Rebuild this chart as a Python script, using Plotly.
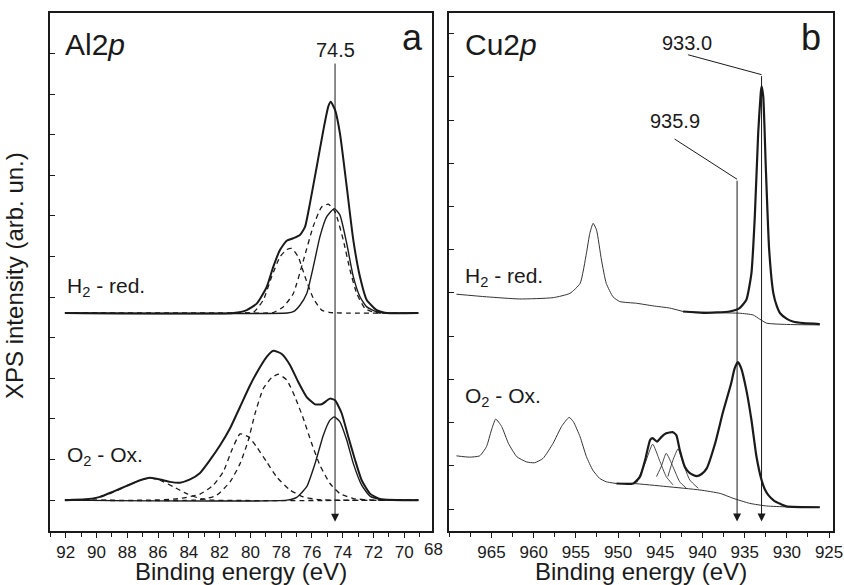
import plotly.graph_objects as go

W, H = 844, 585

# ---- panel a: Al2p (binding energy in eV, intensity in arb. units) ----
al_ticks = [92, 90, 88, 86, 84, 82, 80, 78, 76, 74, 72, 70]

al_red_env_x = [92.05, 81.1, 80.24, 79.59, 78.94, 78.51, 78.08, 77.64, 77.21, 76.78, 76.45,
                76.13, 75.69, 75.26, 74.94, 74.78, 74.5, 74.18, 73.74, 73.31, 72.88, 72.44,
                71.79, 71.14, 69.09]
al_red_env_y = [4.61, 4.61, 4.68, 4.84, 5.25, 5.75, 6.16, 6.39, 6.45, 6.53, 6.73,
                7.31, 8.21, 9.11, 9.69, 9.81, 9.61, 9.03, 7.72, 6.40, 5.50, 4.93,
                4.68, 4.61, 4.61]
al_red_met_x = [92.05, 77.6, 77.21, 76.78, 76.34, 75.91, 75.48, 75.04, 74.55, 74.18, 73.74,
                73.31, 72.88, 72.44, 71.79, 71.14, 69.09]
al_red_met_y = [4.61, 4.61, 4.64, 4.80, 5.09, 5.75, 6.49, 6.98, 7.18, 7.02, 6.32,
                5.50, 5.01, 4.76, 4.64, 4.61, 4.61]
al_red_ox1_x = [92.05, 78.9, 78.51, 77.86, 77.21, 76.56, 75.91, 75.37, 74.94, 74.5, 73.96,
                73.53, 73.09, 72.55, 71.9, 69.09]
al_red_ox1_y = [4.61, 4.61, 4.62, 4.76, 5.09, 5.90, 6.75, 7.22, 7.29, 7.10, 6.40,
                5.67, 5.09, 4.72, 4.62, 4.61]
al_red_ox2_x = [92.05, 80.2, 79.81, 79.16, 78.62, 78.08, 77.64, 77.32, 76.89, 76.45, 75.91,
                75.37, 74.8, 69.09]
al_red_ox2_y = [4.61, 4.61, 4.62, 4.93, 5.50, 5.99, 6.17, 6.20, 5.99, 5.50, 4.97,
                4.68, 4.62, 4.61]

al_ox_env_x = [92.05, 90.64, 89.77, 88.91, 88.04, 87.17, 86.52, 85.87, 85.22, 84.57, 83.92,
               83.27, 82.62, 81.97, 81.32, 80.67, 80.02, 79.37, 78.94, 78.51, 77.96, 77.43,
               76.89, 76.34, 75.80, 75.37, 74.83, 74.5, 74.07, 73.64, 73.20, 72.77, 72.23,
               71.58, 69.09]
al_ox_env_y = [0.0, 0.02, 0.08, 0.21, 0.35, 0.49, 0.55, 0.51, 0.45, 0.43, 0.51,
               0.67, 0.99, 1.35, 1.77, 2.30, 2.83, 3.28, 3.53, 3.68, 3.60, 3.33,
               2.91, 2.54, 2.36, 2.36, 2.50, 2.46, 2.14, 1.56, 0.99, 0.49, 0.16,
               0.03, 0.0]
al_ox_met_x = [92.05, 77.64, 76.99, 76.34, 75.80, 75.26, 74.83, 74.55, 74.18, 73.74, 73.31,
               72.77, 72.23, 71.58, 70.9, 69.09]
al_ox_met_y = [0.0, 0.0, 0.07, 0.33, 0.90, 1.60, 1.97, 2.05, 1.93, 1.48, 0.90,
               0.37, 0.10, 0.02, 0.0, 0.0]
al_ox_c1_x = [92.05, 90.2, 89.12, 88.04, 87.17, 86.52, 85.87, 85.0, 84.14, 83.27, 82.4, 69.09]
al_ox_c1_y = [0.0, 0.04, 0.16, 0.35, 0.49, 0.55, 0.49, 0.33, 0.16, 0.04, 0.0, 0.0]
al_ox_c2_x = [92.05, 86.52, 84.57, 83.27, 82.41, 81.76, 81.21, 80.67, 80.13, 79.59, 78.94,
              78.29, 77.43, 76.56, 75.5, 69.09]
al_ox_c2_y = [0.0, 0.0, 0.04, 0.15, 0.37, 0.70, 1.23, 1.63, 1.56, 1.31, 0.94,
              0.57, 0.25, 0.08, 0.01, 0.0]
al_ox_c3_x = [92.05, 83.27, 82.19, 81.32, 80.67, 80.13, 79.70, 79.16, 78.61, 78.19, 77.64,
              77.10, 76.56, 76.02, 75.48, 74.83, 74.18, 73.31, 72.0, 69.09]
al_ox_c3_y = [0.0, 0.01, 0.12, 0.45, 0.90, 1.48, 2.13, 2.75, 3.02, 3.10, 2.96,
              2.54, 2.01, 1.40, 0.86, 0.41, 0.16, 0.04, 0.0, 0.0]

# ---- panel b: Cu2p ----
cu_ticks = [965, 960, 955, 950, 945, 940, 935, 930, 925]

cu_red_raw_x = [969.15, 965.6, 961.65, 957.7, 955.7, 954.5, 953.75, 953.35, 952.96, 952.56,
                951.97, 951.4, 950.6, 949.8, 947.8, 945.85, 943.9, 942.3]
cu_red_raw_y = [4.97, 4.91, 4.86, 4.89, 4.99, 5.22, 5.92, 6.38, 6.61, 6.46,
                5.76, 5.22, 4.91, 4.80, 4.76, 4.70, 4.65, 4.57]
cu_red_env_x = [942.3, 939.9, 936.8, 935.6, 934.8, 934.2, 933.8, 933.4, 933.1, 933.0, 932.8,
                932.5, 932.1, 931.6, 931.2, 930.8, 930.0, 929.3, 928.0, 926.1]
cu_red_env_y = [4.57, 4.54, 4.57, 4.65, 4.84, 5.46, 6.77, 8.70, 9.62, 9.78, 9.54,
                7.92, 6.00, 4.99, 4.70, 4.53, 4.40, 4.34, 4.30, 4.28]
cu_red_bg_x = [942.3, 938.0, 935.6, 934.0, 933.2, 932.4, 930.05, 926.1]
cu_red_bg_y = [4.57, 4.54, 4.53, 4.49, 4.39, 4.30, 4.27, 4.26]

cu_ox_raw_x = [969.15, 967.6, 966.4, 965.6, 965.0, 964.5, 963.8, 963.0, 962.0, 960.85, 959.9,
               958.9, 957.7, 956.7, 955.8, 955.3, 954.5, 953.75, 953.0, 952.2, 951.4, 950.2]
cu_ox_raw_y = [1.23, 1.20, 1.23, 1.44, 1.83, 2.08, 1.91, 1.52, 1.21, 1.09, 1.07,
               1.17, 1.52, 1.91, 2.12, 2.02, 1.67, 1.21, 0.90, 0.71, 0.63, 0.59]
cu_ox_env_x = [950.2, 948.2, 947.4, 946.8, 946.2, 945.9, 945.4, 944.85, 944.3, 943.55, 943.1,
               942.7, 942.1, 941.5, 940.7, 940.1, 939.5, 938.5, 937.6, 936.6, 936.2, 935.8,
               935.4, 934.8, 934.2, 933.6, 933.0, 932.6, 932.2, 931.5, 930.8, 930.05, 926.1]
cu_ox_env_y = [0.59, 0.59, 0.75, 1.13, 1.60, 1.64, 1.56, 1.67, 1.75, 1.78, 1.71,
               1.37, 0.98, 0.83, 0.76, 0.81, 0.94, 1.52, 2.22, 2.91, 3.25, 3.40,
               3.25, 2.75, 2.06, 1.21, 0.67, 0.45, 0.32, 0.19, 0.12, 0.06, 0.04]
cu_ox_bg_x = [950.2, 948.2, 944.3, 940.3, 937.9, 936.4, 934.4, 932.4, 930.05, 926.1]
cu_ox_bg_y = [0.59, 0.59, 0.52, 0.44, 0.36, 0.25, 0.13, 0.07, 0.05, 0.04]
cu_sat1_x = [947.8, 946.8, 945.9, 945.1, 944.3, 943.5]
cu_sat1_y = [0.61, 1.06, 1.50, 1.13, 0.75, 0.56]
cu_sat2_x = [945.45, 944.85, 944.3, 943.5, 942.7, 941.9]
cu_sat2_y = [0.75, 1.00, 1.29, 0.98, 0.63, 0.48]
cu_sat3_x = [944.1, 943.5, 942.9, 942.3, 941.5, 940.5]
cu_sat3_y = [0.75, 1.13, 1.39, 1.06, 0.67, 0.48]

# peak markers
al_marker = ("74.5", 74.5, 11.08, 74.5, 10.79, -0.53)
cu_markers = [("933.0", 941.85, 10.78, 941.7, 10.51, 933.0, 10.05, -0.29),
              ("935.9", 943.3, 8.97, 943.3, 8.56, 935.9, 7.63, -0.29)]

INK = "#1a1a1a"
FONT = "Liberation Sans, Arial, sans-serif"
DASH = "5px,4px"

fig = go.Figure()


def add_line(x, y, ax, width, color=INK, dash="solid"):
    xa, ya = ("x", "y") if ax == "a" else ("x2", "y2")
    fig.add_trace(go.Scatter(x=x, y=y, xaxis=xa, yaxis=ya, mode="lines",
                             line=dict(color=color, width=width, dash=dash,
                                       shape="spline", smoothing=0.5),
                             hoverinfo="skip", showlegend=False))


# panel a
for cx, cy in [(al_red_ox1_x, al_red_ox1_y), (al_red_ox2_x, al_red_ox2_y),
               (al_ox_c1_x, al_ox_c1_y), (al_ox_c2_x, al_ox_c2_y), (al_ox_c3_x, al_ox_c3_y)]:
    add_line(cx, cy, "a", 1.3, dash=DASH)
add_line(al_red_met_x, al_red_met_y, "a", 1.4)
add_line(al_ox_met_x, al_ox_met_y, "a", 1.4)
add_line(al_red_env_x, al_red_env_y, "a", 2.0)
add_line(al_ox_env_x, al_ox_env_y, "a", 2.0)

# panel b
add_line(cu_red_raw_x, cu_red_raw_y, "b", 1.0, color="#333333")
add_line(cu_red_bg_x, cu_red_bg_y, "b", 1.0, color="#333333")
add_line(cu_red_env_x, cu_red_env_y, "b", 2.2)
add_line(cu_ox_raw_x, cu_ox_raw_y, "b", 1.0, color="#333333")
add_line(cu_ox_bg_x, cu_ox_bg_y, "b", 1.0, color="#333333")
for sx, sy in [(cu_sat1_x, cu_sat1_y), (cu_sat2_x, cu_sat2_y), (cu_sat3_x, cu_sat3_y)]:
    add_line(sx, sy, "b", 0.9, color="#333333")
add_line(cu_ox_env_x, cu_ox_env_y, "b", 2.2)


def px(x, y):
    return x / W, 1 - y / H


annots = []


def text(s, x, y, size, xanchor="center", yanchor="middle", angle=0):
    xp, yp = px(x, y)
    annots.append(dict(text=s, x=xp, y=yp, xref="paper", yref="paper", showarrow=False,
                       xanchor=xanchor, yanchor=yanchor, textangle=angle,
                       font=dict(family=FONT, size=size, color=INK)))


text("Al2<i>p</i>", 63, 45, 30, xanchor="left")
text("Cu2<i>p</i>", 463, 45, 30, xanchor="left")
text("a", 412, 37, 36)
text("b", 811, 37, 36)
text("H<sub>2</sub> - red.", 65, 287, 21, xanchor="left")
text("O<sub>2</sub> - Ox.", 65, 456, 21, xanchor="left")
text("H<sub>2</sub> - red.", 463, 277, 21, xanchor="left")
text("O<sub>2</sub> - Ox.", 463, 397, 21, xanchor="left")
text("Binding energy (eV)", 241, 571, 24)
text("Binding energy (eV)", 641, 571, 24)
text("XPS intensity (arb. un.)", 14, 276, 24, angle=-90)
text("68", 433, 549, 17)

shapes = []
lab, lx, ly, tx, ty, tip = al_marker
annots.append(dict(text=lab, x=lx, y=ly, xref="x", yref="y", showarrow=False,
                   font=dict(family=FONT, size=20, color=INK)))
annots.append(dict(text="", x=tx, y=tip, ax=tx, ay=ty, xref="x", yref="y", axref="x",
                   ayref="y", showarrow=True, arrowhead=2, arrowsize=1.6, arrowwidth=1,
                   arrowcolor=INK))
for lab, lx, ly, sx, sy, ex, ey, tip in cu_markers:
    annots.append(dict(text=lab, x=lx, y=ly, xref="x2", yref="y2", showarrow=False,
                       font=dict(family=FONT, size=20, color=INK)))
    shapes.append(dict(type="line", xref="x2", yref="y2", x0=sx, y0=sy, x1=ex, y1=ey,
                       line=dict(color=INK, width=1)))
    annots.append(dict(text="", x=ex, y=tip, ax=ex, ay=ey, xref="x2", yref="y2", axref="x2",
                       ayref="y2", showarrow=True, arrowhead=2, arrowsize=1.6, arrowwidth=1,
                       arrowcolor=INK))

xcommon = dict(showline=True, mirror=True, linecolor=INK, linewidth=1.5, showgrid=False,
               zeroline=False, ticks="outside", ticklen=5, tickwidth=1, tickcolor=INK,
               automargin=False, tickfont=dict(family=FONT, size=17, color=INK))
ycommon = dict(showline=True, mirror=True, linecolor=INK, linewidth=1.5, showgrid=False,
               zeroline=False, ticks="inside", ticklen=5, tickwidth=1, tickcolor=INK,
               automargin=False, showticklabels=False, tick0=0, dtick=1)

fig.update_layout(
    width=W, height=H, margin=dict(l=0, r=0, t=0, b=0, autoexpand=False),
    paper_bgcolor="white", plot_bgcolor="white",
    xaxis=dict(domain=[50 / W, 432 / W], range=[93.02, 68.2], tickmode="array",
               tickvals=al_ticks, ticktext=[str(t) for t in al_ticks],
               minor=dict(ticks="outside", ticklen=4, tick0=0, dtick=1, tickcolor=INK),
               anchor="y", **xcommon),
    yaxis=dict(domain=[1 - 531 / H, 1 - 13.3 / H], range=[-0.76, 11.99], anchor="x",
               **ycommon),
    xaxis2=dict(domain=[449.3 / W, 833.3 / W], range=[970.0, 924.5], tickmode="array",
                tickvals=cu_ticks, ticktext=[str(t) for t in cu_ticks],
                minor=dict(ticks="outside", ticklen=4, tick0=0, dtick=2.5, tickcolor=INK),
                anchor="y2", **xcommon),
    yaxis2=dict(domain=[1 - 531 / H, 1 - 13.3 / H], range=[-0.509, 11.47], anchor="x2",
                **ycommon),
    annotations=annots, shapes=shapes,
)

fig.write_html("out.html", config={"displayModeBar": False},
               post_script="document.body.style.margin='0';")
